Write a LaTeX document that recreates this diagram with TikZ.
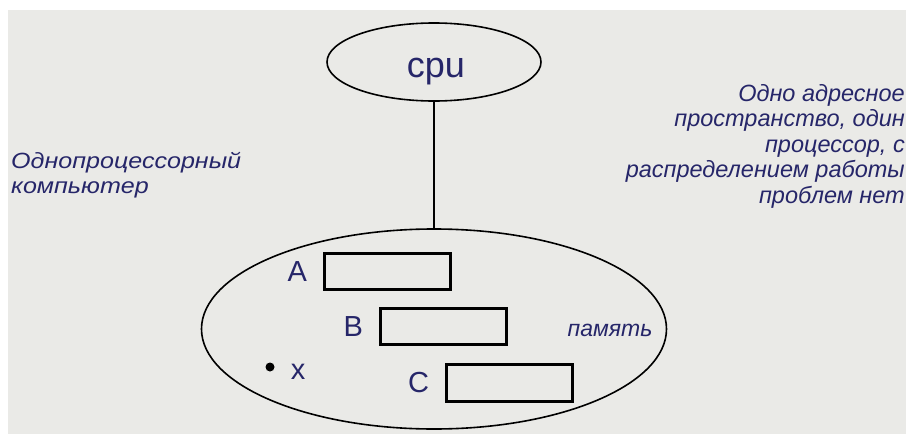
\documentclass[tikz,border=0pt]{standalone}
\usepackage{fontspec}
\setmainfont{Liberation Sans}
\newfontfamily\widesans[FakeStretch=1.14]{Liberation Sans}
\usetikzlibrary{shapes.geometric,positioning}
\definecolor{ink}{RGB}{38,38,105}
\definecolor{paper}{RGB}{234,234,231}

\begin{document}
\begin{tikzpicture}[
  x=1pt, y=-1pt,
  oval/.style={draw=black, ellipse, line width=1.6pt, inner sep=0pt},
  cell/.style={draw=black, line width=2.6pt, inner sep=0pt,
               minimum width=126pt, minimum height=36.5pt},
  note/.style={text=ink, inner sep=0pt,
               font=\fontsize{23}{25.5}\selectfont\itshape},
  tag/.style={text=ink, inner sep=0pt, font=\fontsize{29}{32}\selectfont},
]
  %% paper
  \useasboundingbox (0,0) rectangle (906,434);
  \fill[paper] (8,10) rectangle (906,434);

  %% processor
  \node[oval, minimum width=214pt, minimum height=78pt] (cpu) at (434,62) {};
  \node[tag, font=\fontsize{36}{40}\selectfont] (cpulbl) at (436,72) {cpu};

  %% memory with its blocks
  \node[oval, minimum width=465pt, minimum height=200pt] (mem) at (434,329) {};
  \draw[line width=1.5pt] (cpu) -- (mem);

  \node[cell] (ra) at (387.5,271.5) {};
  \node[cell] (rb) at (443.5,326.5) {};
  \node[cell] (rc) at (509.5,383) {};
  \node[tag, left=16pt of ra] (la) {A};
  \node[tag, left=16pt of rb] (lb) {B};
  \node[tag, left=16pt of rc] (lc) {C};

  \node[circle, fill=black, inner sep=0pt, minimum size=9pt] (dot) at (270,367) {};
  \node[tag] (lx) at (298,372) {x};
  \node[note] (mlbl) at (610,330) {память};

  %% side notes
  \node[note, align=left, anchor=north west,
        font=\fontsize{22}{25}\selectfont\widesans\itshape] (left) at (11,152)
    {Однопроцессорный\\компьютер};
  \node[note, align=right, anchor=north east,
        font=\fontsize{23.5}{25.5}\selectfont\itshape] (right) at (905,84)
    {Одно адресное\\пространство, один\\процессор, с\\распределением работы\\проблем нет};
\end{tikzpicture}
\end{document}
